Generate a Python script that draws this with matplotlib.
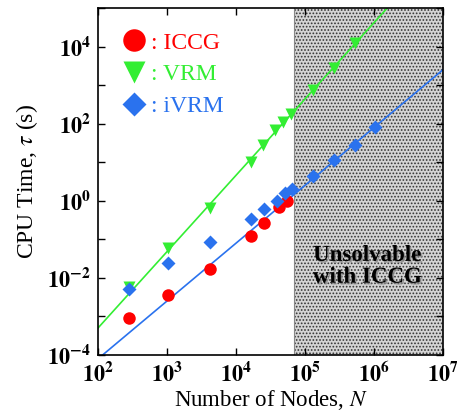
import numpy as np
import matplotlib
matplotlib.use('Agg')
import matplotlib.pyplot as plt
import matplotlib.patheffects as pe
from matplotlib.ticker import FixedLocator, FuncFormatter

plt.rcParams['font.family'] = ['Liberation Serif', 'DejaVu Serif']
plt.rcParams['mathtext.fontset'] = 'stix'
plt.rcParams['hatch.linewidth'] = 0.8

# datos
n_iccg = [282, 1020, 4170, 16600, 25100, 41700, 55000]
t_iccg = [9e-4, 3.6e-3, 0.017, 0.12, 0.26, 0.68, 1.0]

n_vrm = [282, 1020, 4170, 16600, 24500, 37000, 48000, 63000, 132000, 263000, 525000]
t_vrm = [0.0059, 0.06, 0.66, 10, 28, 69, 112, 180, 750, 2800, 12600]

n_ivrm = [282, 1020, 4170, 16600, 25100, 39000, 51300, 64600, 132000, 263000, 525000, 1030000]
t_ivrm = [0.0051, 0.025, 0.087, 0.34, 0.6, 1.0, 1.6, 2.0, 4.5, 11.5, 28, 80]

# rectas de ajuste: log10(tau) = a + b*log10(N)
ajuste_vrm = (-7.26, 1.98)
ajuste_ivrm = (-7.10, 1.50)

limite_iccg = 6.9e4

fig = plt.figure(figsize=(4.57, 4.17), dpi=100)
ax = fig.add_axes([98/457, 62/417, 345/457, 347/417])

ax.set_xscale('log')
ax.set_yscale('log')
ax.set_xlim(1e2, 1e7)
ax.set_ylim(1e-4, 1e5)

# zona sin solucion
ax.axvspan(limite_iccg, 1e7, facecolor='#d4d4d4', edgecolor='#333333', hatch='.....', linewidth=0, zorder=0)
ax.axvline(limite_iccg, color='#888888', lw=0.8, zorder=0)
ax.text(8.0e5, 2.0e-2, 'Unsolvable\nwith ICCG', ha='center', va='center', fontsize=16.5,
        fontweight='bold', linespacing=1.05, zorder=1,
        path_effects=[pe.withSimplePatchShadow(offset=(1.2, -1.2), shadow_rgbFace='#888888', alpha=0.8)])

xs = np.logspace(2, 7, 200)
ax.plot(xs, 10**(ajuste_vrm[0] + ajuste_vrm[1]*np.log10(xs)), color='#33ee33', lw=1.2, zorder=2)
ax.plot(xs, 10**(ajuste_ivrm[0] + ajuste_ivrm[1]*np.log10(xs)), color='#2a72ee', lw=1.2, zorder=2)

ax.plot(n_iccg, t_iccg, 'o', color='#ff0000', ms=9, mec='none', label=': ICCG', zorder=3)
ax.plot(n_vrm, t_vrm, 'v', color='#33ee33', ms=8.5, mec='none', label=': VRM', zorder=4)
ax.plot(n_ivrm, t_ivrm, 'D', color='#2a72ee', ms=7, mec='none', label=': iVRM', zorder=5)

ley = ax.legend(loc='upper left', bbox_to_anchor=(-0.005, 0.992), frameon=False, fontsize=17,
                handletextpad=0.0, handlelength=1.4, labelspacing=0.43, markerscale=1.8,
                labelcolor=['#ff0000', '#33ee33', '#2a72ee'])

ax.xaxis.set_major_locator(FixedLocator([10.0**k for k in range(2, 8)]))
ax.yaxis.set_major_locator(FixedLocator([10.0**k for k in range(-4, 6)]))
ax.xaxis.set_minor_locator(FixedLocator([]))
ax.yaxis.set_minor_locator(FixedLocator([]))

def etiqueta_x(v, pos):
    return r'$\mathbf{10^{%d}}$' % round(np.log10(v))

def etiqueta_y(v, pos):
    k = round(np.log10(v))
    if k % 2 == 0 and k <= 4:
        return r'$\mathbf{10^{%d}}$' % k
    return ''

ax.xaxis.set_major_formatter(FuncFormatter(etiqueta_x))
ax.yaxis.set_major_formatter(FuncFormatter(etiqueta_y))
ax.tick_params(which='both', direction='in', top=True, right=True, length=5, width=1,
               labelsize=16, pad=5)
for s in ax.spines.values():
    s.set_linewidth(1.2)

ax.set_xlabel('Number of Nodes, $N$', fontsize=16.5, labelpad=1)
ax.set_ylabel(r'CPU Time, $\tau$ (s)', fontsize=17, labelpad=5)

fig.savefig('out.png', dpi=100)
